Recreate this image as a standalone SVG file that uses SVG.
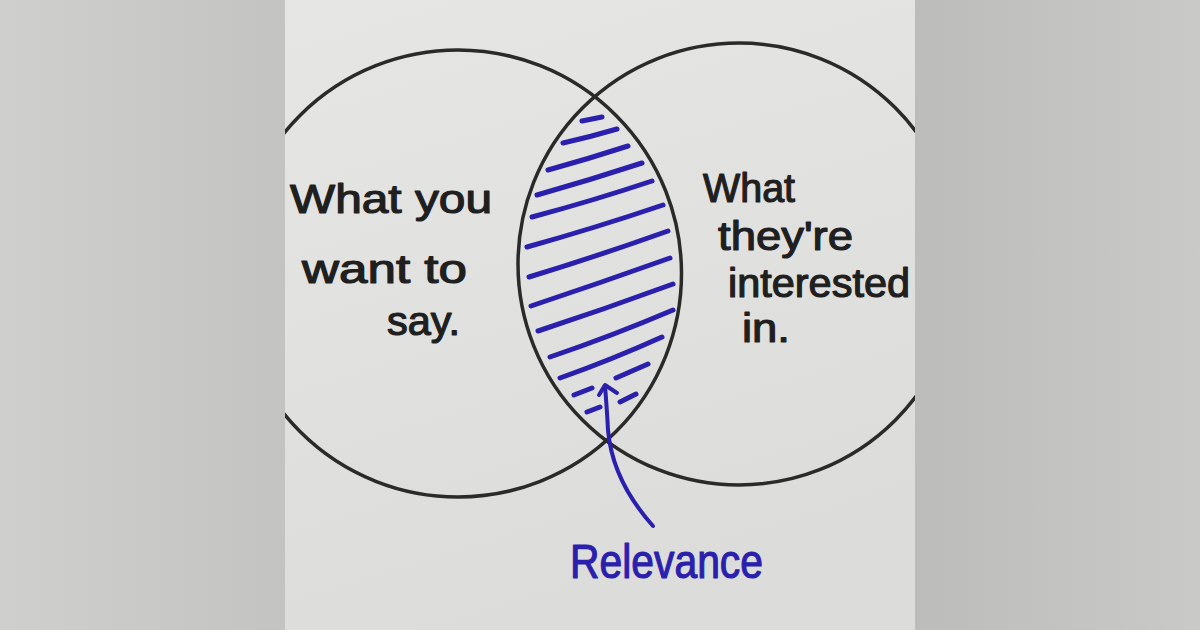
<svg xmlns="http://www.w3.org/2000/svg" width="1200" height="630" viewBox="0 0 1200 630">
  <defs>
    <linearGradient id="bgL" x1="0" y1="0" x2="1" y2="0">
      <stop offset="0" stop-color="#cfcfcd"/>
      <stop offset="1" stop-color="#c3c3c1"/>
    </linearGradient>
    <linearGradient id="bgR" x1="0" y1="0" x2="1" y2="0">
      <stop offset="0" stop-color="#bcbcba"/>
      <stop offset="1" stop-color="#c9c9c7"/>
    </linearGradient>
    <linearGradient id="paper" x1="0" y1="0" x2="0.3" y2="1">
      <stop offset="0" stop-color="#e6e6e4"/>
      <stop offset="1" stop-color="#dcdcda"/>
    </linearGradient>
    <clipPath id="paperClip">
      <rect x="285" y="0" width="630" height="630"/>
    </clipPath>
    <style>
      .ring { fill: none; stroke: #2a2a28; stroke-width: 3.5; }
      .hatch { fill: none; stroke: #2b1fae; stroke-width: 5; stroke-linecap: round; }
      .hand { font-family: "Liberation Sans", "DejaVu Sans", sans-serif; font-size: 40px; fill: #1f1f1f; stroke: #1f1f1f; stroke-width: 1.2; stroke-linejoin: round; }
      .blue { font-family: "Liberation Sans", "DejaVu Sans", sans-serif; font-size: 48px; fill: #2b1fae; stroke: #2b1fae; stroke-width: 1.2; stroke-linejoin: round; }
      .arrow { fill: none; stroke: #2b1fae; stroke-width: 4; stroke-linecap: round; stroke-linejoin: round; }
    </style>
  </defs>

  <rect x="0" y="0" width="285" height="630" fill="url(#bgL)"/>
  <rect x="915" y="0" width="285" height="630" fill="url(#bgR)"/>
  <rect x="285" y="0" width="630" height="630" fill="url(#paper)"/>

  <g id="left-circle" clip-path="url(#paperClip)">
    <circle class="ring" cx="458" cy="273.5" r="223.5"/>
  </g>
  <g id="right-circle" clip-path="url(#paperClip)">
    <circle class="ring" cx="739" cy="264" r="221"/>
  </g>

  <g id="relevance-hatch">
    <path class="hatch" d="M582,121 L602,117"/>
    <path class="hatch" d="M563,143 Q590,137 617,129"/>
    <path class="hatch" d="M548,170 Q588,159 628,146"/>
    <path class="hatch" d="M537,195 Q590,180 642,163"/>
    <path class="hatch" d="M532,217 Q592,201 652,181"/>
    <path class="hatch" d="M527,247 Q595,228 663,205"/>
    <path class="hatch" d="M529,277 Q598,256 668,231"/>
    <path class="hatch" d="M531,306 Q600,283 670,258"/>
    <path class="hatch" d="M538,331 Q605,309 673,284"/>
    <path class="hatch" d="M550,357 Q612,336 673,310"/>
    <path class="hatch" d="M560,378 Q611,360 662,337"/>
    <path class="hatch" d="M616,378 L648,364"/>
    <path class="hatch" d="M574,395 L592,388"/>
    <path class="hatch" d="M620,402 L636,394"/>
    <path class="hatch" d="M587,412 L600,407"/>
  </g>

  <g id="label-left">
    <text class="hand" x="290" y="213" textLength="202" lengthAdjust="spacingAndGlyphs">What you</text>
    <text class="hand" x="302" y="283" textLength="165" lengthAdjust="spacingAndGlyphs">want to</text>
    <text class="hand" x="387" y="335" textLength="73" lengthAdjust="spacingAndGlyphs">say.</text>
  </g>

  <g id="label-right">
    <text class="hand" x="703" y="202" textLength="92" lengthAdjust="spacingAndGlyphs">What</text>
    <text class="hand" x="718" y="250" textLength="135" lengthAdjust="spacingAndGlyphs">they're</text>
    <text class="hand" x="728" y="297" textLength="182" lengthAdjust="spacingAndGlyphs">interested</text>
    <text class="hand" x="742" y="342" textLength="48" lengthAdjust="spacingAndGlyphs">in.</text>
  </g>

  <g id="label-relevance">
    <text class="blue" x="570" y="578" textLength="193" lengthAdjust="spacingAndGlyphs">Relevance</text>
  </g>

  <g id="connectors">
    <path class="arrow" d="M653,526 C628,498 611,465 608,430 C607,410 606,398 605,386"/>
    <path class="arrow" d="M599,395 L605,385 L617,393"/>
  </g>
</svg>
